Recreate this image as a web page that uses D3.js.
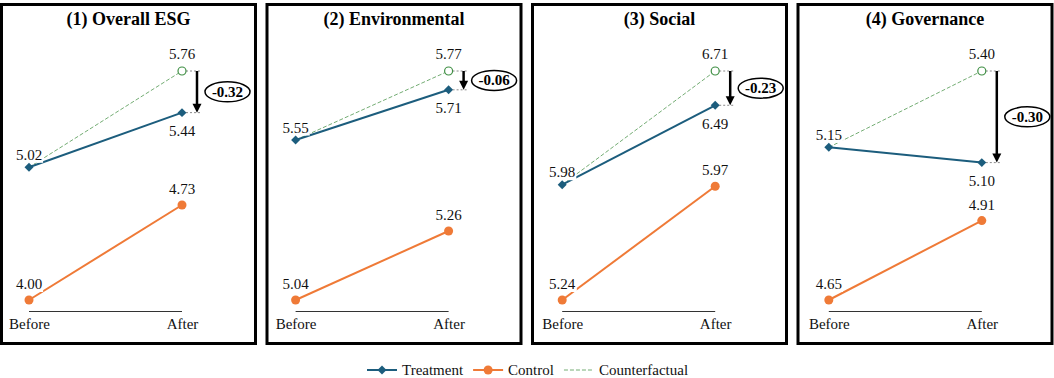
<!DOCTYPE html>
<html>
<head>
<meta charset="utf-8">
<script src="https://cdn.jsdelivr.net/npm/d3@7"></script>
<style>
  html, body { margin: 0; padding: 0; background: #fff; }
  svg { display: block; font-family: "Liberation Serif", "Times New Roman", serif; }
  svg text { font-family: "Liberation Serif", "Times New Roman", serif; }
</style>
</head>
<body>
<svg id="chart" width="1054" height="378"></svg>
<script>
// ---- data ----
const panelTitles = ["(1) Overall ESG", "(2) Environmental", "(3) Social", "(4) Governance"];
const periods = ["Before", "After"];
const treatment = [[5.02, 5.44], [5.55, 5.71], [5.98, 6.49], [5.15, 5.10]];
const control = [[4.00, 4.73], [5.04, 5.26], [5.24, 5.97], [4.65, 4.91]];
const counterfactual = [5.76, 5.77, 6.71, 5.40];
const effects = [-0.32, -0.06, -0.23, -0.30];
const legendLabels = ["Treatment", "Control", "Counterfactual"];

// ---- style ----
const cTreat = "#1c5d7d", cCtrl = "#ef7a37", cCf = "#3f8f44", cCfLine = "#74ad74";
const fmt = v => v.toFixed(2);
const fmtEff = v => (v < 0 ? "-" : "") + Math.abs(v).toFixed(2);

const svg = d3.select("#chart");

function labelWithBg(g, x, y, text, opts = {}) {
  const grp = g.append("g");
  const t = grp.append("text")
    .attr("x", x).attr("y", y)
    .attr("text-anchor", "middle")
    .attr("font-size", opts.size || 15)
    .attr("font-weight", opts.weight || "normal")
    .attr("fill", "#111")
    .text(text);
  const bb = t.node().getBBox();
  grp.insert("rect", "text")
    .attr("x", bb.x - 1).attr("y", bb.y)
    .attr("width", bb.width + 2).attr("height", bb.height)
    .attr("fill", "#fff");
  return grp;
}

const panelStep = 265.5, panelW = 257;
const ptStep = 266.6;

panelTitles.forEach((title, i) => {
  const left = i * panelStep;
  const g = svg.append("g");

  // border
  g.append("rect")
    .attr("x", left + 1.5).attr("y", 4.5)
    .attr("width", panelW - 3).attr("height", 339)
    .attr("fill", "#fff").attr("stroke", "#000").attr("stroke-width", 3);

  // title
  g.append("text")
    .attr("x", left + panelW / 2).attr("y", 25)
    .attr("text-anchor", "middle")
    .attr("font-size", 18).attr("font-weight", "bold")
    .attr("fill", "#000")
    .text(title);

  const x = d3.scalePoint().domain(periods)
    .range([29 + i * ptStep, 182 + i * ptStep]);
  const vals = treatment[i].concat(control[i], [counterfactual[i]]);
  const y = d3.scaleLinear().domain([d3.min(vals), d3.max(vals)]).range([300, 71]);

  // baseline axis
  const axis = d3.axisBottom(x).tickSize(0).tickPadding(0);
  const ax = g.append("g").attr("transform", "translate(0,311)").call(axis)
    .attr("font-family", '"Liberation Serif", "Times New Roman", serif');
  ax.select(".domain").attr("stroke", "#333").attr("stroke-width", 1)
    .attr("d", `M${x("Before")},0.5H${x("After")}`);
  ax.selectAll(".tick text")
    .attr("y", 18).attr("dy", 0)
    .attr("font-size", 15)
    .attr("fill", "#111");

  const line = d3.line().x(d => x(d[0])).y(d => y(d[1]));

  const xB = x("Before"), xA = x("After");

  // grey reference dotted lines
  const arrowX = xA + 15;
  [counterfactual[i], treatment[i][1]].forEach(v => {
    g.append("line")
      .attr("x1", xA + 4).attr("x2", arrowX + 4)
      .attr("y1", y(v)).attr("y2", y(v))
      .attr("stroke", "#8a8a8a").attr("stroke-width", 1)
      .attr("stroke-dasharray", "2,2");
  });

  // counterfactual dashed line
  g.append("path")
    .attr("d", line([["Before", treatment[i][0]], ["After", counterfactual[i]]]))
    .attr("fill", "none").attr("stroke", cCfLine).attr("stroke-width", 1)
    .attr("stroke-dasharray", "4,2");

  // control line
  g.append("path")
    .attr("d", line(periods.map((p, k) => [p, control[i][k]])))
    .attr("fill", "none").attr("stroke", cCtrl).attr("stroke-width", 2);

  // treatment line
  g.append("path")
    .attr("d", line(periods.map((p, k) => [p, treatment[i][k]])))
    .attr("fill", "none").attr("stroke", cTreat).attr("stroke-width", 2);

  // labels (with white bg)
  labelWithBg(g, xB, y(treatment[i][0]) - 7.5, fmt(treatment[i][0]));
  labelWithBg(g, xA, y(treatment[i][1]) + 23.5, fmt(treatment[i][1]));
  labelWithBg(g, xB, y(control[i][0]) - 11, fmt(control[i][0]));
  labelWithBg(g, xA, y(control[i][1]) - 11, fmt(control[i][1]));
  labelWithBg(g, xA, y(counterfactual[i]) - 12, fmt(counterfactual[i]));

  // markers
  periods.forEach((p, k) => {
    g.append("circle")
      .attr("cx", x(p)).attr("cy", y(control[i][k])).attr("r", 4.5)
      .attr("fill", cCtrl);
    g.append("path")
      .attr("d", d3.symbol(d3.symbolSquare, 40)())
      .attr("transform", `translate(${x(p)},${y(treatment[i][k])}) rotate(45)`)
      .attr("fill", cTreat);
  });
  g.append("circle")
    .attr("cx", xA).attr("cy", y(counterfactual[i])).attr("r", 4)
    .attr("fill", "#fff").attr("stroke", cCf).attr("stroke-width", 1.2);

  // effect arrow
  const y0 = y(counterfactual[i]), y1 = y(treatment[i][1]);
  g.append("line")
    .attr("x1", arrowX).attr("x2", arrowX)
    .attr("y1", y0).attr("y2", y1 - 7)
    .attr("stroke", "#000").attr("stroke-width", 2.5);
  g.append("path")
    .attr("d", `M${arrowX - 4.5},${y1 - 9}L${arrowX + 4.5},${y1 - 9}L${arrowX},${y1}Z`)
    .attr("fill", "#000");

  // effect ellipse label
  const ey = (y0 + y1) / 2;
  const ex = arrowX + 30.5;
  g.append("ellipse")
    .attr("cx", ex).attr("cy", ey).attr("rx", 22.5).attr("ry", 10)
    .attr("fill", "#fff").attr("stroke", "#000").attr("stroke-width", 1.5);
  g.append("text")
    .attr("x", ex).attr("y", ey + 5)
    .attr("text-anchor", "middle")
    .attr("font-size", 15).attr("font-weight", "bold")
    .attr("fill", "#000")
    .text(fmtEff(effects[i]));
});

// ---- legend ----
const leg = svg.append("g");
let lx = 367;
const ly = 370;
legendLabels.forEach((name, k) => {
  const item = leg.append("g");
  if (k === 0) {
    item.append("line").attr("x1", lx).attr("x2", lx + 30).attr("y1", ly).attr("y2", ly)
      .attr("stroke", cTreat).attr("stroke-width", 2);
    item.append("path").attr("d", d3.symbol(d3.symbolSquare, 40)())
      .attr("transform", `translate(${lx + 15},${ly}) rotate(45)`).attr("fill", cTreat);
  } else if (k === 1) {
    item.append("line").attr("x1", lx).attr("x2", lx + 30).attr("y1", ly).attr("y2", ly)
      .attr("stroke", cCtrl).attr("stroke-width", 2);
    item.append("circle").attr("cx", lx + 15).attr("cy", ly).attr("r", 4.5).attr("fill", cCtrl);
  } else {
    item.append("line").attr("x1", lx).attr("x2", lx + 28).attr("y1", ly).attr("y2", ly)
      .attr("stroke", cCfLine).attr("stroke-width", 1).attr("stroke-dasharray", "4,2");
  }
  const t = item.append("text").attr("x", lx + 35).attr("y", ly + 4.5)
    .attr("font-size", 15).attr("fill", "#111").text(name);
  lx = lx + 35 + t.node().getComputedTextLength() + 10;
});
</script>
</body>
</html>
